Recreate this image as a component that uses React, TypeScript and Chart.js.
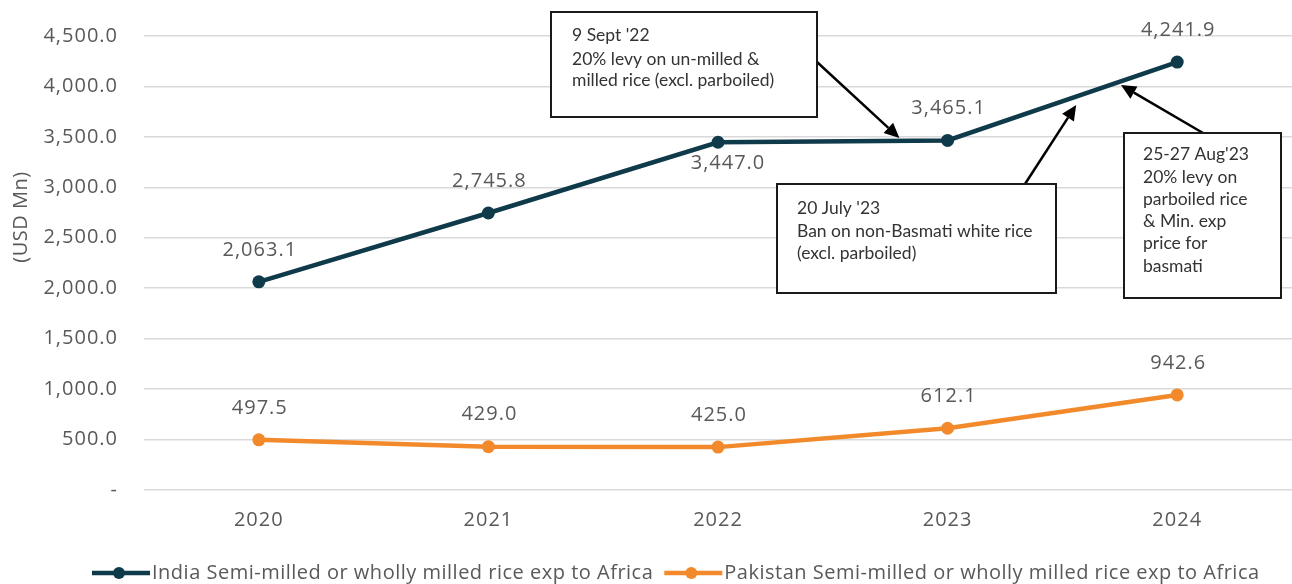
import { useEffect, useRef } from 'react';
import { Chart, registerables } from 'chart.js';

Chart.register(...registerables);

// Rice exports to Africa, USD Mn
const years = ['2020', '2021', '2022', '2023', '2024'];
const indiaExports = [2063.1, 2745.8, 3447.0, 3465.1, 4241.9];
const pakistanExports = [497.5, 429.0, 425.0, 612.1, 942.6];
const indiaLabelSide = ['above', 'above', 'below', 'above', 'above'];
const pakistanLabelSide = ['above', 'above', 'above', 'above', 'above'];
const seriesNames = [
  'India Semi-milled or wholly milled rice exp to Africa',
  'Pakistan Semi-milled or wholly milled rice exp to Africa',
];
const axisTitle = '(USD Mn)';
const yMin = 0;
const yMax = 4500;
const yStep = 500;

const INDIA_COLOR = '#0f3a4a';
const PAKISTAN_COLOR = '#f28a2c';
const TEXT_COLOR = '#595959';
const GRID_COLOR = '#d9d9d9';
const FONT = '"Open Sans", sans-serif';
const NOTE_FONT = 'Lato, sans-serif';

// Policy call-outs: box in canvas pixels, arrow tip in (category index, USD Mn)
type Note = {
  lines: string[];
  box: { x: number; y: number; w: number; h: number };
  textX: number;
  baselines: number[];
  tail: { x: number; y: number };
  tip: { index: number; value: number };
};

const notes: Note[] = [
  {
    lines: ["9 Sept '22", '20% levy on un-milled &', 'milled rice (excl. parboiled)'],
    box: { x: 551, y: 12, w: 266, h: 105 },
    textX: 572,
    baselines: [41, 65, 86],
    tail: { x: 817, y: 62 },
    tip: { index: 2.79, value: 3489 },
  },
  {
    lines: ["20 July '23", 'Ban on non-Basmati white rice', '(excl. parboiled)'],
    box: { x: 777, y: 184, w: 279, h: 109 },
    textX: 797,
    baselines: [214, 237, 259],
    tail: { x: 1025, y: 184 },
    tip: { index: 3.56, value: 3816 },
  },
  {
    lines: ["25-27 Aug'23", '20% levy on', 'parboiled rice', '& Min. exp', 'price for', 'basmati'],
    box: { x: 1124, y: 133, w: 157, h: 165 },
    textX: 1143,
    baselines: [160, 183, 205, 227, 249, 272],
    tail: { x: 1203, y: 133 },
    tip: { index: 3.755, value: 4014 },
  },
];

const formatValue = (v: number) =>
  v.toLocaleString('en-US', { minimumFractionDigits: 1, maximumFractionDigits: 1 });

const textSpacing = {
  id: 'textSpacing',
  beforeDraw(chart: Chart) {
    (chart.ctx as any).letterSpacing = '1px';
  },
};

const valueLabels = {
  id: 'valueLabels',
  afterDatasetsDraw(chart: Chart) {
    const ctx = chart.ctx;
    const sides = [indiaLabelSide, pakistanLabelSide];
    ctx.save();
    (ctx as any).letterSpacing = '1px';
    ctx.font = `20px ${FONT}`;
    ctx.fillStyle = TEXT_COLOR;
    ctx.textAlign = 'center';
    ctx.textBaseline = 'middle';
    chart.data.datasets.forEach((ds, di) => {
      const meta = chart.getDatasetMeta(di);
      meta.data.forEach((pt: any, i: number) => {
        const v = ds.data[i] as number;
        const below = sides[di][i] === 'below';
        const dx = below ? 10 : 1;
        const dy = below ? 21 : -32;
        ctx.fillText(formatValue(v), pt.x + dx, pt.y + dy);
      });
    });
    ctx.restore();
  },
};

const overlay = {
  id: 'overlay',
  afterDraw(chart: Chart) {
    const ctx = chart.ctx;
    const xs = chart.scales.x;
    const ys = chart.scales.y;

    // y-axis title
    ctx.save();
    (ctx as any).letterSpacing = '0.5px';
    ctx.font = `20px ${FONT}`;
    ctx.fillStyle = TEXT_COLOR;
    ctx.translate(21, 217);
    ctx.rotate(-Math.PI / 2);
    ctx.textAlign = 'center';
    ctx.textBaseline = 'middle';
    ctx.fillText(axisTitle, 0, 0);
    ctx.restore();

    // call-out boxes and arrows
    notes.forEach((n) => {
      const tipX = xs.getPixelForValue(n.tip.index);
      const tipY = ys.getPixelForValue(n.tip.value);
      ctx.save();
      const ang = Math.atan2(tipY - n.tail.y, tipX - n.tail.x);
      const headLen = 15;
      const headHalf = 7;
      const baseX = tipX - headLen * Math.cos(ang);
      const baseY = tipY - headLen * Math.sin(ang);
      ctx.strokeStyle = '#000';
      ctx.lineWidth = 2.5;
      ctx.beginPath();
      ctx.moveTo(n.tail.x, n.tail.y);
      ctx.lineTo(baseX, baseY);
      ctx.stroke();
      ctx.fillStyle = '#000';
      ctx.beginPath();
      ctx.moveTo(tipX, tipY);
      ctx.lineTo(baseX + headHalf * Math.sin(ang), baseY - headHalf * Math.cos(ang));
      ctx.lineTo(baseX - headHalf * Math.sin(ang), baseY + headHalf * Math.cos(ang));
      ctx.closePath();
      ctx.fill();

      ctx.fillStyle = '#ffffff';
      ctx.fillRect(n.box.x, n.box.y, n.box.w, n.box.h);
      ctx.lineWidth = 2;
      ctx.strokeStyle = '#1a1a1a';
      ctx.strokeRect(n.box.x, n.box.y, n.box.w, n.box.h);

      (ctx as any).letterSpacing = '0px';
      ctx.font = `17.5px ${NOTE_FONT}`;
      ctx.fillStyle = '#333333';
      ctx.textAlign = 'left';
      ctx.textBaseline = 'alphabetic';
      n.lines.forEach((line, i) => ctx.fillText(line, n.textX, n.baselines[i]));
      ctx.restore();
    });

    // legend
    ctx.save();
    (ctx as any).letterSpacing = '0.5px';
    ctx.font = `20px ${FONT}`;
    ctx.textBaseline = 'middle';
    ctx.textAlign = 'left';
    const legendY = 573;
    let x = 92;
    const colors = [INDIA_COLOR, PAKISTAN_COLOR];
    seriesNames.forEach((name, i) => {
      ctx.strokeStyle = colors[i];
      ctx.lineWidth = 4.5;
      ctx.beginPath();
      ctx.moveTo(x, legendY);
      ctx.lineTo(x + 58, legendY);
      ctx.stroke();
      ctx.fillStyle = colors[i];
      ctx.beginPath();
      ctx.arc(x + 27, legendY, 6, 0, Math.PI * 2);
      ctx.fill();
      ctx.fillStyle = TEXT_COLOR;
      ctx.fillText(name, x + 60, legendY);
      x += 60 + ctx.measureText(name).width + 11;
    });
    ctx.restore();
  },
};

export default function App() {
  const canvasRef = useRef<HTMLCanvasElement | null>(null);

  useEffect(() => {
    if (!canvasRef.current) return;
    const chart = new Chart(canvasRef.current, {
      type: 'line',
      data: {
        labels: years,
        datasets: [
          {
            label: seriesNames[0],
            data: indiaExports,
            borderColor: INDIA_COLOR,
            backgroundColor: INDIA_COLOR,
            borderWidth: 4.5,
            pointRadius: 6.5,
            pointBorderWidth: 0,
            tension: 0,
          },
          {
            label: seriesNames[1],
            data: pakistanExports,
            borderColor: PAKISTAN_COLOR,
            backgroundColor: PAKISTAN_COLOR,
            borderWidth: 4.5,
            pointRadius: 6.5,
            pointBorderWidth: 0,
            tension: 0,
          },
        ],
      },
      options: {
        animation: false,
        responsive: false,
        devicePixelRatio: 1,
        layout: { padding: { top: 36, right: 0, bottom: 0, left: 0 }, autoPadding: false },
        plugins: {
          legend: { display: false },
          tooltip: { enabled: false },
        },
        scales: {
          x: {
            offset: true,
            grid: { display: false, drawTicks: false },
            border: { display: false },
            ticks: { color: TEXT_COLOR, font: { family: FONT, size: 20 }, padding: 18 },
            afterFit: (s: any) => {
              s.height = 94;
              s.paddingLeft = 0;
              s.paddingRight = 0;
            },
          },
          y: {
            min: yMin,
            max: yMax,
            grid: { color: GRID_COLOR, lineWidth: 1.5, drawTicks: false },
            border: { display: false },
            ticks: {
              stepSize: yStep,
              color: TEXT_COLOR,
              font: { family: FONT, size: 20 },
              padding: 26,
              callback: (v: any) => (Number(v) === 0 ? '-' : formatValue(Number(v))),
            },
            afterFit: (s: any) => {
              s.width = 144;
              s.paddingTop = 0;
              s.paddingBottom = 0;
            },
          },
        },
      },
      plugins: [textSpacing, valueLabels, overlay],
    });
    return () => chart.destroy();
  }, []);

  return (
    <div style={{ position: 'fixed', left: 0, top: 0, width: 1292, height: 584, background: '#fff' }}>
      <canvas ref={canvasRef} width={1292} height={584} style={{ width: 1292, height: 584, display: 'block' }} />
    </div>
  );
}
